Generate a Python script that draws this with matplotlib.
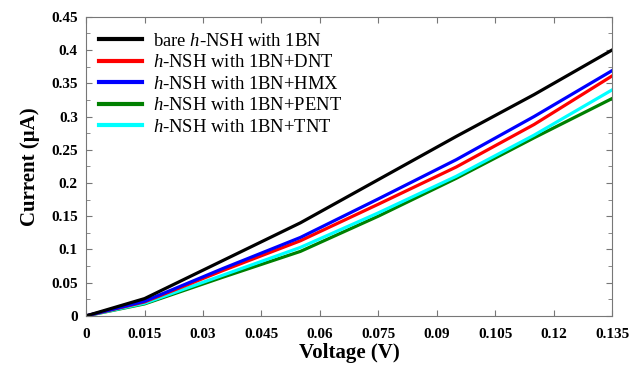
import numpy as np
import matplotlib
matplotlib.use("Agg")
import matplotlib.pyplot as plt
from matplotlib.ticker import MultipleLocator, FuncFormatter

# Data
voltage = [0, 0.015, 0.035, 0.055, 0.075, 0.095, 0.115, 0.135]
bare = [0, 0.026, 0.083, 0.140, 0.205, 0.270, 0.333, 0.400]
dnt = [0, 0.021, 0.068, 0.113, 0.168, 0.224, 0.288, 0.361]
hmx = [0, 0.022, 0.071, 0.118, 0.176, 0.235, 0.300, 0.369]
pent = [0, 0.018, 0.058, 0.097, 0.150, 0.207, 0.268, 0.327]
tnt = [0, 0.019, 0.061, 0.103, 0.155, 0.210, 0.272, 0.340]

labels = ["bare $h$-NSH with 1BN", "$h$-NSH with 1BN+DNT", "$h$-NSH with 1BN+HMX",
          "$h$-NSH with 1BN+PENT", "$h$-NSH with 1BN+TNT"]
series = [bare, dnt, hmx, pent, tnt]
colors = ["black", "red", "blue", "green", "cyan"]

plt.rcParams["font.family"] = ["Liberation Serif", "DejaVu Serif"]
plt.rcParams["mathtext.fontset"] = "custom"
plt.rcParams["mathtext.it"] = "Liberation Serif:italic"
plt.rcParams["mathtext.rm"] = "Liberation Serif"

fig = plt.figure(figsize=(6.29, 3.66), dpi=100)
ax = fig.add_axes([0.137, 0.137, 0.836, 0.817])

# draw order: green and cyan first so the others sit on top
order = [3, 4, 1, 2, 0]
handles = {}
for i in order:
    h, = ax.plot(voltage, series[i], color=colors[i], linewidth=2.3, label=labels[i])
    handles[i] = h

leg = ax.legend([handles[i] for i in range(5)], labels, loc="upper left", frameon=False,
                fontsize=13.4, handlelength=2.3, handletextpad=0.6, labelspacing=0.24,
                borderaxespad=0.3, bbox_to_anchor=(0.0, 0.99))
for ln in leg.get_lines():
    ln.set_linewidth(3)

ax.set_xlim(0, 0.135)
ax.set_ylim(0, 0.45)
ax.xaxis.set_major_locator(MultipleLocator(0.015))
ax.yaxis.set_major_locator(MultipleLocator(0.05))
ax.yaxis.set_minor_locator(MultipleLocator(0.025))
fmt = FuncFormatter(lambda v, p: ("%.3f" % v).rstrip("0").rstrip(".") if v != 0 else "0")
ax.xaxis.set_major_formatter(fmt)
ax.yaxis.set_major_formatter(fmt)
ax.tick_params(which="both", direction="in", top=True, right=True, color="#777777")
ax.tick_params(which="major", length=4, labelsize=11, pad=6)
ax.tick_params(axis="x", which="major", pad=9)
ax.tick_params(which="minor", length=3)
for lab in ax.get_xticklabels() + ax.get_yticklabels():
    lab.set_fontweight("bold")
for s in ax.spines.values():
    s.set_color("#777777")

ax.set_xlabel("Voltage (V)", fontsize=15, fontweight="bold", labelpad=1)
ax.set_ylabel("Current (μA)", fontsize=15, fontweight="bold", labelpad=8)

fig.savefig("out.png", dpi=100)
plt.close("all")
